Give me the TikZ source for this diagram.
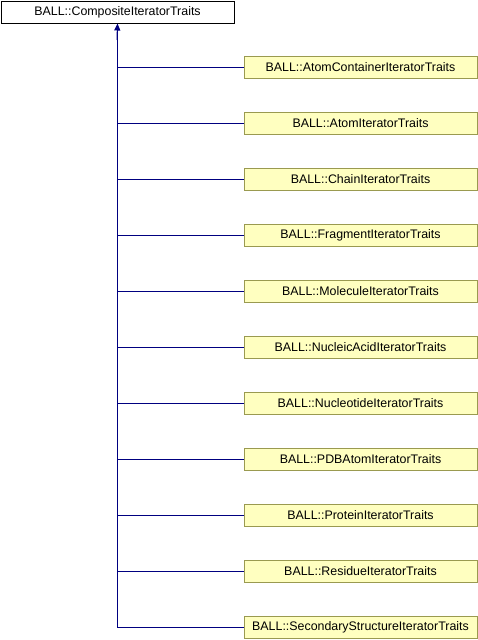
\documentclass[tikz,border=0pt]{standalone}
\usepackage{fontspec}
\setmainfont{Liberation Sans}
\usetikzlibrary{arrows.meta}
\definecolor{boxfill}{HTML}{FFFFC0}
\definecolor{boxline}{HTML}{9A9A50}
\definecolor{edge}{HTML}{000080}
\tikzset{
  child/.style={draw=boxline, fill=boxfill, line width=1pt, minimum width=233pt, minimum height=22pt, inner sep=0pt, font=\fontsize{12.4}{14}\selectfont},
  rootbox/.style={draw=black, fill=white, line width=1pt, minimum width=233pt, minimum height=22pt, inner sep=0pt, font=\fontsize{12.4}{14}\selectfont},
  inherit/.style={draw=edge, line width=1pt},
}
\begin{document}
\begin{tikzpicture}[x=1pt,y=-1pt]
\useasboundingbox (0,0) rectangle (478,640);
\node[rootbox] (root) at (117.5,12) {BALL::CompositeIteratorTraits};
\coordinate (trunk) at (117,24);
\foreach \i/\name in {0/AtomContainerIteratorTraits,1/AtomIteratorTraits,2/ChainIteratorTraits,3/FragmentIteratorTraits,4/MoleculeIteratorTraits,5/NucleicAcidIteratorTraits,6/NucleotideIteratorTraits,7/PDBAtomIteratorTraits,8/ProteinIteratorTraits,9/ResidueIteratorTraits,10/SecondaryStructureIteratorTraits}{
  \node[child] (c\i) at (360.5,{67.5+56*\i}) {BALL::\name};
  \coordinate (j\i) at (117,{67.5+56*\i});
  \draw[inherit] (j\i) -- (c\i.west);
}
\draw[inherit] (j10) -- (trunk);
\draw[inherit, -{Triangle[length=7pt,width=6pt]}] (117,40) -- (root.south);
\end{tikzpicture}
\end{document}
